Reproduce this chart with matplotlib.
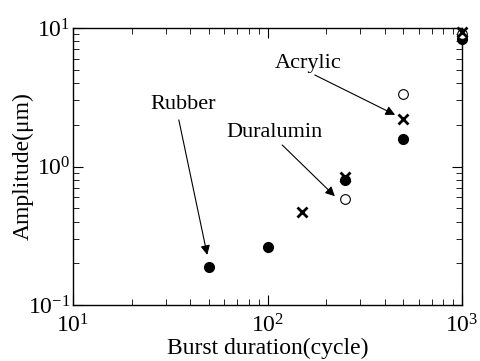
import numpy as np
import matplotlib.pyplot as plt
from matplotlib.ticker import LogLocator, NullFormatter

plt.rcParams['font.family'] = ['Liberation Serif', 'DejaVu Serif']
plt.rcParams['mathtext.fontset'] = 'stix'

# Rubber (filled circles)
rubber_x = [50, 100, 250, 500, 1000]
rubber_y = [0.188, 0.262, 0.80, 1.58, 8.3]
# Duralumin (open circles)
dural_x = [250, 500, 1000]
dural_y = [0.58, 3.34, 9.0]
# Acrylic (crosses)
acryl_x = [150, 250, 500, 1000]
acryl_y = [0.469, 0.84, 2.2, 9.4]

fig = plt.figure(figsize=(4.8, 3.61), dpi=100)
ax = fig.add_axes([73/480, 1-305/361, (462-73)/480, (305-28)/361])

ax.plot(rubber_x, rubber_y, 'o', color='black', ms=7, clip_on=False, zorder=3)
ax.plot(dural_x, dural_y, 'o', mfc='white', mec='black', ms=7, mew=0.8, clip_on=False, zorder=3)
ax.plot(acryl_x, acryl_y, 'x', color='black', ms=7, mew=2, clip_on=False, zorder=4)

ax.set_xscale('log')
ax.set_yscale('log')
ax.set_xlim(10, 1000)
ax.set_ylim(0.1, 10)

ax.xaxis.set_minor_locator(LogLocator(base=10, subs=np.arange(2, 10)))
ax.yaxis.set_minor_locator(LogLocator(base=10, subs=np.arange(2, 10)))
ax.xaxis.set_minor_formatter(NullFormatter())
ax.yaxis.set_minor_formatter(NullFormatter())
ax.tick_params(which='both', direction='in', top=True, right=True, labelsize=17)
ax.tick_params(axis='x', which='major', pad=7)
ax.tick_params(axis='y', which='major', pad=2)
ax.tick_params(which='major', length=7)
ax.tick_params(which='minor', length=4)
for s in ax.spines.values():
    s.set_linewidth(1.0)

ax.set_xlabel('Burst duration(cycle)', fontsize=17, labelpad=0)
ax.set_ylabel('Amplitude(μm)', fontsize=17)
ax.yaxis.set_label_coords(-0.10, 0.5)

arrow = dict(arrowstyle='-|>', color='black', lw=0.8, mutation_scale=14, shrinkA=0, shrinkB=0)
ax.annotate('', xy=(49, 0.23), xytext=(35, 2.17), arrowprops=arrow)
ax.text(36.8, 2.78, 'Rubber', fontsize=16, ha='center', va='center')
ax.annotate('', xy=(222, 0.61), xytext=(119, 1.43), arrowprops=arrow)
ax.text(109, 1.75, 'Duralumin', fontsize=16, ha='center', va='center')
ax.annotate('', xy=(453, 2.36), xytext=(175, 4.58), arrowprops=arrow)
ax.text(161, 5.5, 'Acrylic', fontsize=16, ha='center', va='center')

fig.savefig('out.png', dpi=100)
